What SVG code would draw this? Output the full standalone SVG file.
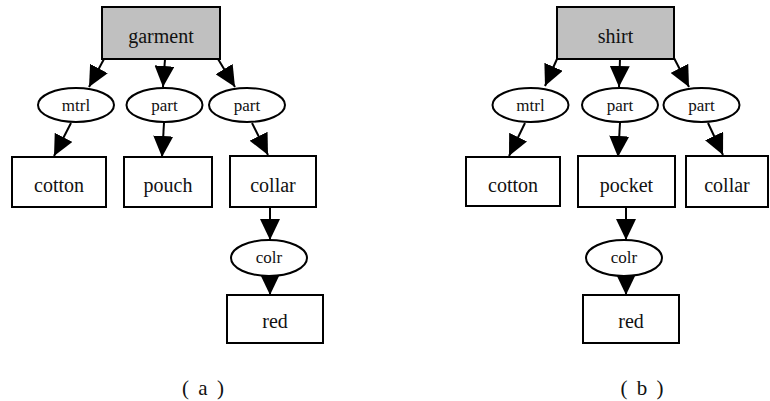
<svg xmlns="http://www.w3.org/2000/svg" width="770" height="401" viewBox="0 0 770 401">
<style>
.box{fill:#fff;stroke:#000;stroke-width:2}
.root{fill:#c0c0c0;stroke:#000;stroke-width:2}
.ell{fill:#fff;stroke:#000;stroke-width:2}
.t{font-family:"Liberation Serif","Times New Roman",serif;font-size:20px;text-anchor:middle;fill:#111}
.s{font-family:"Liberation Serif","Times New Roman",serif;font-size:17px;text-anchor:middle;fill:#111}
.cap{font-family:"Liberation Serif","Times New Roman",serif;font-size:21px;text-anchor:middle;fill:#111;word-spacing:4px}
.e{stroke:#000;stroke-width:2;fill:none;marker-end:url(#ah)}
</style>
<defs>
<marker id="ah" viewBox="0 0 21 20" refX="21" refY="10" markerWidth="21" markerHeight="20" markerUnits="userSpaceOnUse" orient="auto">
<path d="M0,0 L21,10 L0,20 Z" fill="#000"/>
</marker>
</defs>
<g id="edges">
<line class="e" x1="104" y1="59" x2="89" y2="87"/>
<line class="e" x1="165" y1="59" x2="163" y2="87"/>
<line class="e" x1="218" y1="59" x2="235" y2="87"/>
<line class="e" x1="71" y1="123" x2="54" y2="156"/>
<line class="e" x1="164" y1="123" x2="162" y2="157"/>
<line class="e" x1="252" y1="123" x2="268" y2="155"/>
<line class="e" x1="270" y1="207" x2="270" y2="240"/>
<line class="e" x1="270" y1="265" x2="270" y2="295"/>
<line class="e" x1="557" y1="59" x2="545" y2="86"/>
<line class="e" x1="620" y1="59" x2="619" y2="87"/>
<line class="e" x1="674" y1="58" x2="689" y2="87"/>
<line class="e" x1="525" y1="123" x2="509" y2="156"/>
<line class="e" x1="620" y1="123" x2="618" y2="157"/>
<line class="e" x1="708" y1="123" x2="723" y2="155"/>
<line class="e" x1="626" y1="207" x2="626" y2="240"/>
<line class="e" x1="626" y1="265" x2="626" y2="295"/>
</g>
<g id="a_garment"><rect class="root" x="102" y="7" width="118" height="52"/><text class="t" x="161" y="43">garment</text></g>
<g id="a_mtrl"><ellipse class="ell" cx="76" cy="105" rx="38" ry="17"/><text class="s" x="76" y="111">mtrl</text></g>
<g id="a_part1"><ellipse class="ell" cx="164.5" cy="105" rx="38" ry="17"/><text class="s" x="164.5" y="111">part</text></g>
<g id="a_part2"><ellipse class="ell" cx="247" cy="105" rx="38" ry="17"/><text class="s" x="247" y="111">part</text></g>
<g id="a_cotton"><rect class="box" x="12" y="157" width="94" height="50"/><text class="t" x="59" y="192">cotton</text></g>
<g id="a_pouch"><rect class="box" x="124" y="157" width="88" height="50"/><text class="t" x="168" y="192">pouch</text></g>
<g id="a_collar"><rect class="box" x="230" y="156" width="86" height="51"/><text class="t" x="273" y="192">collar</text></g>
<g id="a_colr"><ellipse class="ell" cx="269" cy="258" rx="38" ry="18"/><text class="s" x="269" y="263">colr</text></g>
<g id="a_red"><rect class="box" x="227" y="295" width="96" height="48"/><text class="t" x="275" y="328">red</text></g>
<g id="b_shirt"><rect class="root" x="557" y="7" width="117" height="52"/><text class="t" x="615.5" y="43">shirt</text></g>
<g id="b_mtrl"><ellipse class="ell" cx="530.5" cy="105" rx="38" ry="17"/><text class="s" x="530.5" y="111">mtrl</text></g>
<g id="b_part1"><ellipse class="ell" cx="620" cy="105" rx="38" ry="17"/><text class="s" x="620" y="111">part</text></g>
<g id="b_part2"><ellipse class="ell" cx="701.5" cy="105" rx="38" ry="17"/><text class="s" x="701.5" y="111">part</text></g>
<g id="b_cotton"><rect class="box" x="466" y="157" width="94" height="49"/><text class="t" x="513" y="192">cotton</text></g>
<g id="b_pocket"><rect class="box" x="578" y="156" width="97" height="51"/><text class="t" x="626.5" y="192">pocket</text></g>
<g id="b_collar"><rect class="box" x="686" y="156" width="82" height="51"/><text class="t" x="727" y="192">collar</text></g>
<g id="b_colr"><ellipse class="ell" cx="624" cy="258" rx="38" ry="18"/><text class="s" x="624" y="263">colr</text></g>
<g id="b_red"><rect class="box" x="583" y="295" width="96" height="48"/><text class="t" x="631" y="328">red</text></g>
<g id="captions">
<text class="cap" x="203" y="395">( a )</text>
<text class="cap" x="642" y="395">( b )</text>
</g>
</svg>
